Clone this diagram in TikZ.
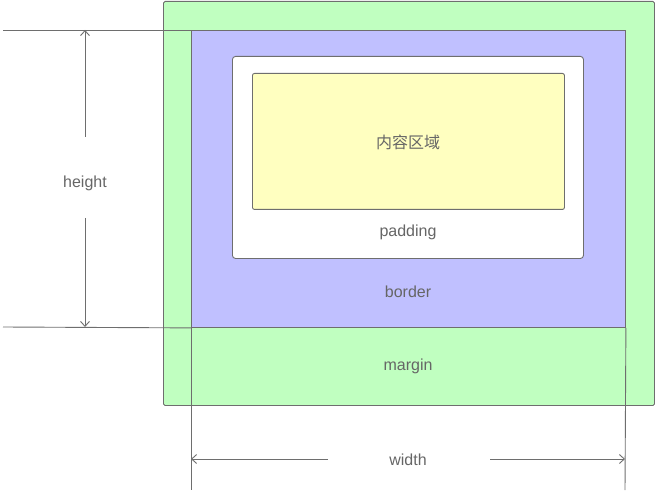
\documentclass[tikz,border=0pt]{standalone}
\usepackage{fontspec}
\setmainfont{Liberation Sans}
\newfontfamily\cjk{Noto Sans CJK SC}
\usetikzlibrary{positioning,arrows.meta}
\definecolor{linegray}{HTML}{6E6E6E}
\definecolor{textgray}{HTML}{666666}
\definecolor{margingreen}{HTML}{C0FFC0}
\definecolor{borderblue}{HTML}{C0C0FF}
\definecolor{contentyellow}{HTML}{FFFFC0}
\tikzset{box node/.style={draw=linegray,line width=0.9pt,inner sep=0pt,anchor=north west},
	label node/.style={text=textgray,font=\fontsize{16}{19}\selectfont},
	dim line/.style={draw=linegray,line width=0.9pt},
	dim arrow/.style={dim line,-{Straight Barb[length=5pt,width=9pt]}},
}

\begin{document}
\begin{tikzpicture}[x=1pt,y=-1pt]
	\useasboundingbox (0,0) rectangle (655,494);
	\node[box node,fill=margingreen,rounded corners=1.5pt,minimum width=491pt,minimum height=404pt] (M) at (163,1) {};
	\node[box node,fill=borderblue,minimum width=434pt,minimum height=297pt] (B) at (191,30) {};
	\node[box node,fill=white,rounded corners=3pt,minimum width=351pt,minimum height=202pt] (P) at (232,56) {};
	\node[box node,fill=contentyellow,rounded corners=2pt,minimum width=312pt,minimum height=136pt] (C) at (252,73) {};
	
	\node[label node] (content) at (408,142) {\cjk 内容区域};
	\node[label node] (padding) at (408,232) {padding};
	\node[label node] (border) at (408,292) {border};
	\node[label node] (margin) at (408,366) {margin};
	\node[label node] (height) at (85,183) {height};
	\node[label node] (width) at (408,460) {width};
	
	\coordinate (HT) at (3,30);
	\coordinate (HB) at (3,327);
	\coordinate (WL) at (191,490);
	\coordinate (WR) at (625,490);
	\coordinate (H1) at (85,137);
	\coordinate (H2) at (85,218);
	\coordinate (W1) at (328,459);
	\coordinate (W2) at (490,459);
	
	\draw[dim line] (HT) -- (B.north west);
	\draw[dim line] (HB) -- (B.south west);
	\draw[dim line] (B.south west) -- (WL);
	\draw[dim line] (B.south east) -- (WR);
	
	\draw[dim arrow] (H1) -- (HT -| H1);
	\draw[dim arrow] (H2) -- (HB -| H2);
	\draw[dim arrow] (W1) -- (W1 -| WL);
	\draw[dim arrow] (W2) -- (W2 -| WR);
	
\end{tikzpicture}
\end{document}
